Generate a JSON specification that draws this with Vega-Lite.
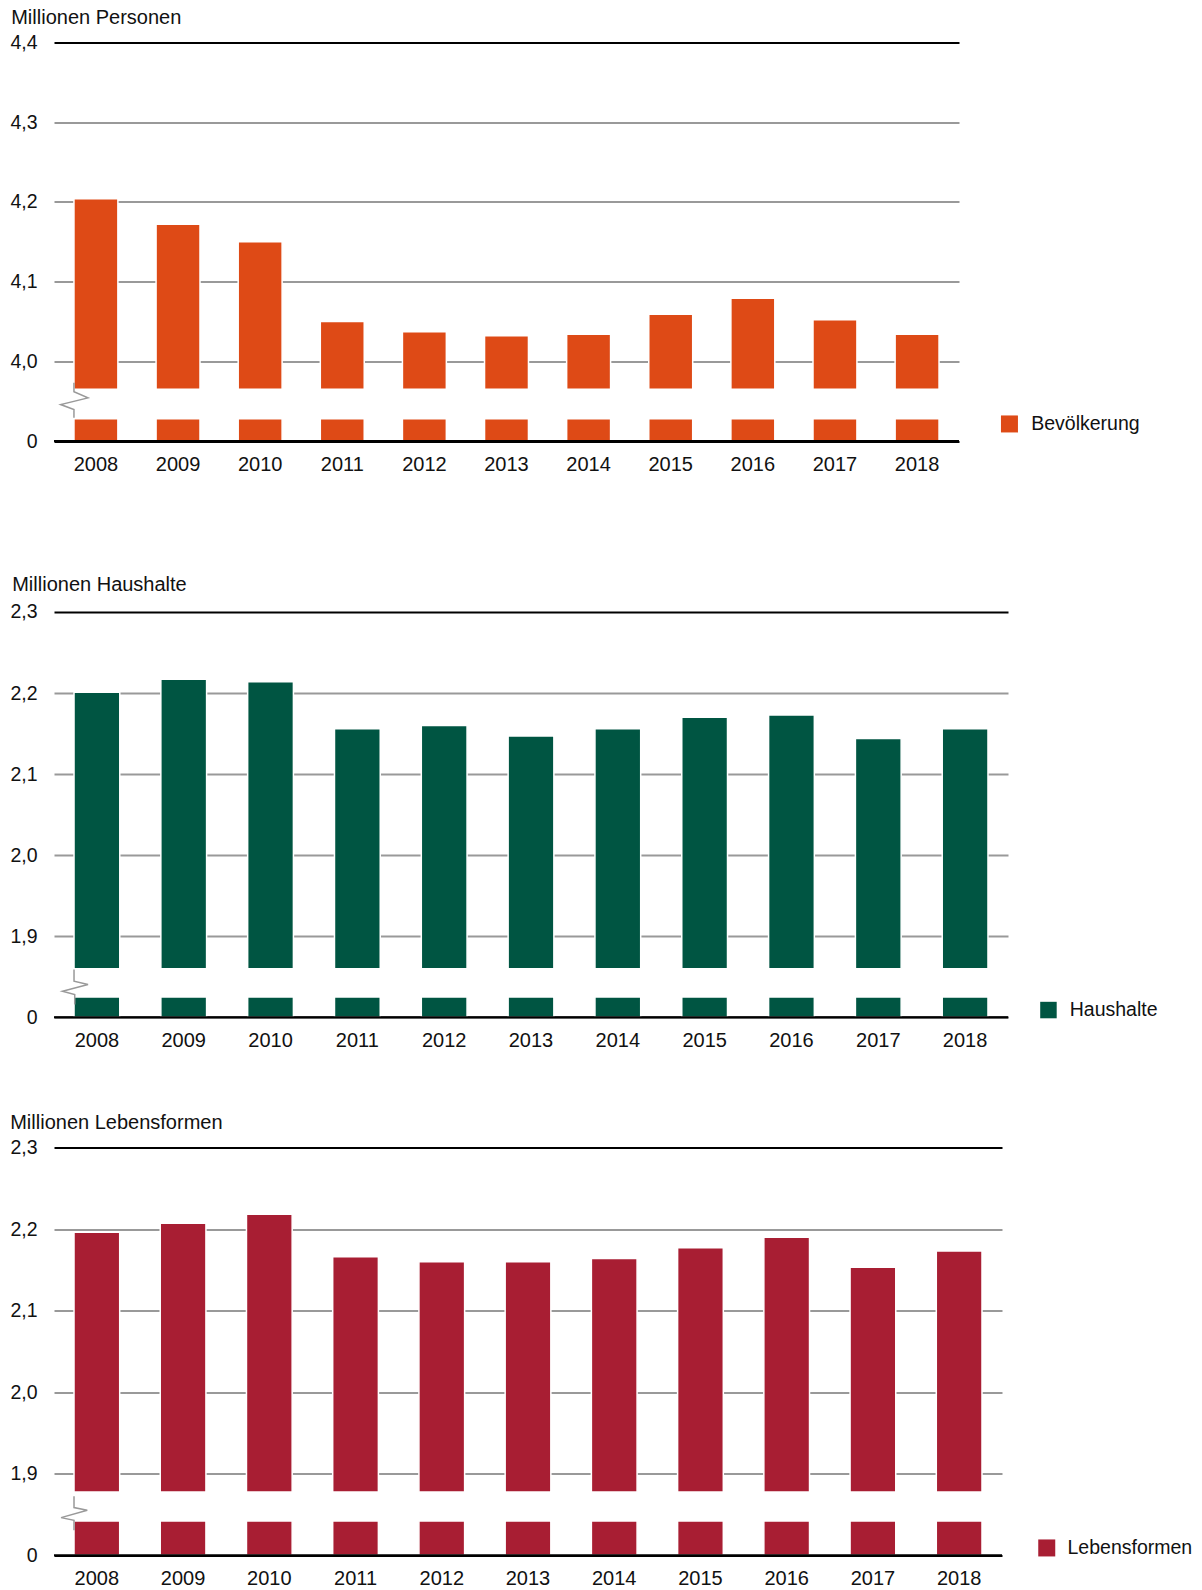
{
  "$schema": "https://vega.github.io/schema/vega-lite/v6.json",
  "padding": {"left": 9, "top": 7.5, "right": 0, "bottom": 0},
  "spacing": 129.5,
  "bounds": "flush",
  "config": {
    "font": "Liberation Sans",
    "view": {"stroke": null},
    "axis": {"labelFont": "Liberation Sans", "labelColor": "#111111", "labelFontSize": 20, "titleFont": "Liberation Sans", "titleFontSize": 20, "titleFontWeight": "normal", "titleColor": "#111111", "domain": false, "ticks": false},
    "axisY": {"labelFontSize": 19.5},
    "legend": {"labelFont": "Liberation Sans", "labelFontSize": 19.5, "labelColor": "#111111"}
  },
  "resolve": {"scale": {"color": "independent"}},
  "datasets": {
    "bev": [
      {"year": "2008", "value": 4.204}, {"year": "2009", "value": 4.172}, {"year": "2010", "value": 4.150},
      {"year": "2011", "value": 4.050}, {"year": "2012", "value": 4.037}, {"year": "2013", "value": 4.032},
      {"year": "2014", "value": 4.034}, {"year": "2015", "value": 4.059}, {"year": "2016", "value": 4.079},
      {"year": "2017", "value": 4.052}, {"year": "2018", "value": 4.034}
    ],
    "haus": [
      {"year": "2008", "value": 2.201}, {"year": "2009", "value": 2.217}, {"year": "2010", "value": 2.214},
      {"year": "2011", "value": 2.156}, {"year": "2012", "value": 2.160}, {"year": "2013", "value": 2.147},
      {"year": "2014", "value": 2.156}, {"year": "2015", "value": 2.170}, {"year": "2016", "value": 2.173},
      {"year": "2017", "value": 2.144}, {"year": "2018", "value": 2.156}
    ],
    "leb": [
      {"year": "2008", "value": 2.196}, {"year": "2009", "value": 2.207}, {"year": "2010", "value": 2.218},
      {"year": "2011", "value": 2.166}, {"year": "2012", "value": 2.160}, {"year": "2013", "value": 2.160},
      {"year": "2014", "value": 2.164}, {"year": "2015", "value": 2.177}, {"year": "2016", "value": 2.190},
      {"year": "2017", "value": 2.153}, {"year": "2018", "value": 2.173}
    ]
  },
  "vconcat": [
    {
      "width": 905,
      "height": 398.5,
      "layer": [
        {
          "data": {"name": "bev"},
          "mark": {"type": "bar", "stroke": "white", "strokeWidth": 1.5},
          "encoding": {
            "x": {"field": "year", "type": "ordinal", "scale": {"paddingInner": 0.465, "paddingOuter": 0.243},
                  "axis": {"title": null, "labelAngle": 0, "labelPadding": 13}},
            "y": {"field": "value", "type": "quantitative",
                  "scale": {"domain": [3.9, 4.4], "nice": false, "zero": false},
                  "axis": {"values": [3.9, 4.0, 4.1, 4.2, 4.3, 4.4],
                           "labelExpr": "datum.value < 3.95 ? '0' : replace(format(datum.value, '.1f'), '.', ',')",
                           "grid": true, "gridWidth": 2,
                           "gridColor": {"condition": {"test": "datum.value > 4.35 || datum.value < 3.95", "value": "#000000"}, "value": "#999999"},
                           "labelPadding": 17,
                           "title": "Millionen Personen", "titleAngle": 0, "titleAlign": "left", "titleBaseline": "alphabetic",
                           "titleX": -43.3, "titleY": -19}},
            "y2": {"datum": 3.965},
            "color": {"datum": "Bevölkerung", "scale": {"range": ["#DE4A16"]},
                      "legend": {"title": null, "orient": "none", "legendX": 945.7, "legendY": 371.7, "symbolType": "square", "symbolSize": 289, "symbolStrokeWidth": 0, "labelOffset": 12, "padding": 0}}
          }
        },
        {
          "data": {"name": "bev"},
          "mark": {"type": "bar", "stroke": "white", "strokeWidth": 1.5},
          "encoding": {
            "x": {"field": "year", "type": "ordinal"},
            "y": {"datum": 3.9},
            "y2": {"datum": 3.928},
            "color": {"datum": "Bevölkerung"}
          }
        },
        {
          "data": {"values": [{"year": "2008", "level": 3.951}]},
          "mark": {"type": "point", "shape": "M0,-1L0,-0.49L0.8,-0.14L-0.76,0.24L0,0.53L0,1", "size": 1225, "filled": false, "stroke": "#999999", "strokeWidth": 1.5, "opacity": 1},
          "encoding": {
            "x": {"field": "year", "type": "ordinal", "bandPosition": 0},
            "y": {"field": "level", "type": "quantitative"}
          }
        },
        {
          "data": {"values": [{}]},
          "mark": {"type": "rule", "color": "#000000", "strokeWidth": 2},
          "encoding": {"y": {"datum": 3.9}}
        }
      ]
    },
    {
      "width": 954,
      "height": 446.3,
      "layer": [
        {
          "data": {"name": "haus"},
          "mark": {"type": "bar", "stroke": "white", "strokeWidth": 1.5},
          "encoding": {
            "x": {"field": "year", "type": "ordinal", "scale": {"paddingInner": 0.473, "paddingOuter": 0.2306},
                  "axis": {"title": null, "labelAngle": 0, "labelPadding": 13}},
            "y": {"field": "value", "type": "quantitative",
                  "scale": {"domain": [1.8, 2.3505], "nice": false, "zero": false},
                  "axis": {"values": [1.8, 1.9, 2.0, 2.1, 2.2, 2.3],
                           "labelExpr": "datum.value < 1.85 ? '0' : replace(format(datum.value, '.1f'), '.', ',')",
                           "grid": true, "gridWidth": 2,
                           "gridColor": {"condition": {"test": "datum.value > 2.25 || datum.value < 1.85", "value": "#000000"}, "value": "#999999"},
                           "labelPadding": 17,
                           "title": "Millionen Haushalte", "titleAngle": 0, "titleAlign": "left", "titleBaseline": "alphabetic",
                           "titleX": -42.3, "titleY": 19.6}},
            "y2": {"datum": 1.860},
            "color": {"datum": "Haushalte", "scale": {"range": ["#005542"]},
                      "legend": {"title": null, "orient": "none", "legendX": 984.7, "legendY": 429.3, "symbolType": "square", "symbolSize": 272, "symbolStrokeWidth": 0, "labelOffset": 11.5, "padding": 0}}
          }
        },
        {
          "data": {"name": "haus"},
          "mark": {"type": "bar", "stroke": "white", "strokeWidth": 1.5},
          "encoding": {
            "x": {"field": "year", "type": "ordinal"},
            "y": {"datum": 1.8},
            "y2": {"datum": 1.825},
            "color": {"datum": "Haushalte"}
          }
        },
        {
          "data": {"values": [{"year": "2008", "level": 1.8374}]},
          "mark": {"type": "point", "shape": "M0,-1L0,-0.33L0.8,-0.14L-0.66,0.24L0.04,0.43L0.04,1", "size": 1225, "filled": false, "stroke": "#999999", "strokeWidth": 1.5, "opacity": 1},
          "encoding": {
            "x": {"field": "year", "type": "ordinal", "bandPosition": 0},
            "y": {"field": "level", "type": "quantitative"}
          }
        },
        {
          "data": {"values": [{}]},
          "mark": {"type": "rule", "color": "#000000", "strokeWidth": 2},
          "encoding": {"y": {"datum": 1.8}}
        }
      ]
    },
    {
      "width": 948,
      "height": 407.7,
      "layer": [
        {
          "data": {"name": "leb"},
          "mark": {"type": "bar", "stroke": "white", "strokeWidth": 1.5},
          "encoding": {
            "x": {"field": "year", "type": "ordinal", "scale": {"paddingInner": 0.47, "paddingOuter": 0.232},
                  "axis": {"title": null, "labelAngle": 0, "labelPadding": 13}},
            "y": {"field": "value", "type": "quantitative",
                  "scale": {"domain": [1.8, 2.3], "nice": false, "zero": false},
                  "axis": {"values": [1.8, 1.9, 2.0, 2.1, 2.2, 2.3],
                           "labelExpr": "datum.value < 1.85 ? '0' : replace(format(datum.value, '.1f'), '.', ',')",
                           "grid": true, "gridWidth": 2,
                           "gridColor": {"condition": {"test": "datum.value > 2.25 || datum.value < 1.85", "value": "#000000"}, "value": "#999999"},
                           "labelPadding": 17,
                           "title": "Millionen Lebensformen", "titleAngle": 0, "titleAlign": "left", "titleBaseline": "alphabetic",
                           "titleX": -44.3, "titleY": -19}},
            "y2": {"datum": 1.8774},
            "color": {"datum": "Lebensformen", "scale": {"range": ["#A81E33"]},
                      "legend": {"title": null, "orient": "none", "legendX": 983, "legendY": 390.7, "symbolType": "square", "symbolSize": 289, "symbolStrokeWidth": 0, "labelOffset": 11, "padding": 0}}
          }
        },
        {
          "data": {"name": "leb"},
          "mark": {"type": "bar", "stroke": "white", "strokeWidth": 1.5},
          "encoding": {
            "x": {"field": "year", "type": "ordinal"},
            "y": {"datum": 1.8},
            "y2": {"datum": 1.842},
            "color": {"datum": "Lebensformen"}
          }
        },
        {
          "data": {"values": [{"year": "2008", "level": 1.8513}]},
          "mark": {"type": "point", "shape": "M0,-1L0,-0.34L0.78,-0.18L-0.76,0.25L0,0.41L0,1", "size": 1156, "filled": false, "stroke": "#999999", "strokeWidth": 1.5, "opacity": 1},
          "encoding": {
            "x": {"field": "year", "type": "ordinal", "bandPosition": 0},
            "y": {"field": "level", "type": "quantitative"}
          }
        },
        {
          "data": {"values": [{}]},
          "mark": {"type": "rule", "color": "#000000", "strokeWidth": 2},
          "encoding": {"y": {"datum": 1.8}}
        }
      ]
    }
  ]
}
